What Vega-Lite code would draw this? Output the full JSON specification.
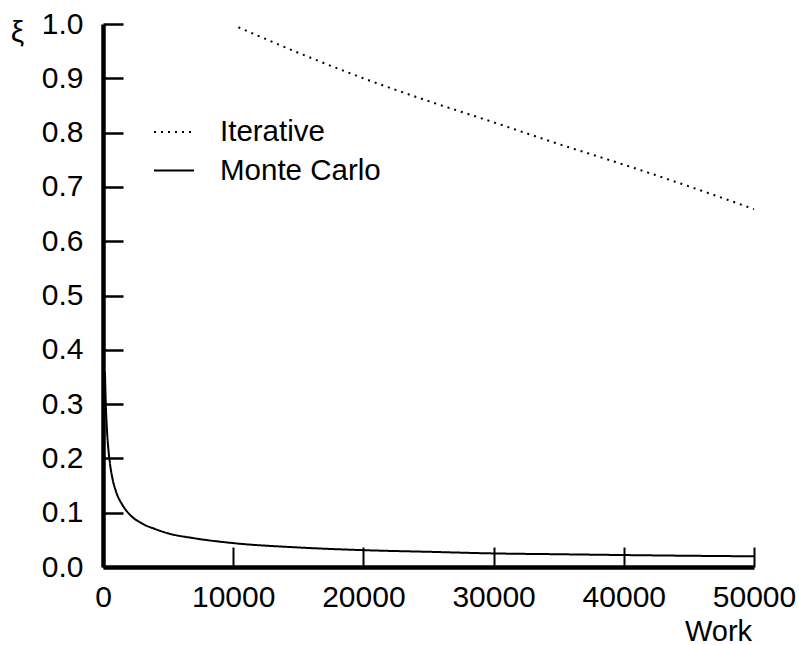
{
  "$schema": "https://vega.github.io/schema/vega-lite/v6.json",
  "autosize": "none",
  "width": 651,
  "height": 543,
  "padding": {"left": 103, "top": 24, "right": 45, "bottom": 78},
  "background": "white",
  "data": {
    "values": [
      {"work": 150, "xi": 0.359, "method": "Monte Carlo"},
      {"work": 200, "xi": 0.311, "method": "Monte Carlo"},
      {"work": 300, "xi": 0.254, "method": "Monte Carlo"},
      {"work": 400, "xi": 0.22, "method": "Monte Carlo"},
      {"work": 500, "xi": 0.197, "method": "Monte Carlo"},
      {"work": 700, "xi": 0.166, "method": "Monte Carlo"},
      {"work": 1000, "xi": 0.139, "method": "Monte Carlo"},
      {"work": 1500, "xi": 0.114, "method": "Monte Carlo"},
      {"work": 2000, "xi": 0.098, "method": "Monte Carlo"},
      {"work": 3000, "xi": 0.08, "method": "Monte Carlo"},
      {"work": 4000, "xi": 0.07, "method": "Monte Carlo"},
      {"work": 5000, "xi": 0.062, "method": "Monte Carlo"},
      {"work": 7000, "xi": 0.053, "method": "Monte Carlo"},
      {"work": 10000, "xi": 0.044, "method": "Monte Carlo"},
      {"work": 15000, "xi": 0.036, "method": "Monte Carlo"},
      {"work": 20000, "xi": 0.031, "method": "Monte Carlo"},
      {"work": 25000, "xi": 0.028, "method": "Monte Carlo"},
      {"work": 30000, "xi": 0.025, "method": "Monte Carlo"},
      {"work": 35000, "xi": 0.0235, "method": "Monte Carlo"},
      {"work": 40000, "xi": 0.022, "method": "Monte Carlo"},
      {"work": 45000, "xi": 0.0207, "method": "Monte Carlo"},
      {"work": 50000, "xi": 0.0197, "method": "Monte Carlo"},
      {"work": 10400, "xi": 0.994, "method": "Iterative"},
      {"work": 15000, "xi": 0.947, "method": "Iterative"},
      {"work": 20000, "xi": 0.9, "method": "Iterative"},
      {"work": 25000, "xi": 0.858, "method": "Iterative"},
      {"work": 30000, "xi": 0.819, "method": "Iterative"},
      {"work": 35000, "xi": 0.779, "method": "Iterative"},
      {"work": 40000, "xi": 0.741, "method": "Iterative"},
      {"work": 45000, "xi": 0.701, "method": "Iterative"},
      {"work": 50000, "xi": 0.659, "method": "Iterative"}
    ]
  },
  "mark": {"type": "line", "color": "black", "strokeWidth": 2, "interpolate": "monotone", "strokeCap": "butt"},
  "encoding": {
    "x": {
      "field": "work",
      "type": "quantitative",
      "scale": {"domain": [0, 50000], "nice": false},
      "axis": {
        "values": [0, 10000, 20000, 30000, 40000, 50000],
        "format": "d",
        "grid": false,
        "domainWidth": 4.5,
        "domainColor": "black",
        "tickColor": "black",
        "tickWidth": 2,
        "tickSize": -20,
        "labelPadding": 59,
        "labelBaseline": "alphabetic",
        "labelFlush": false,
        "labelOverlap": false,
        "labelBound": false,
        "labelFont": "Liberation Sans",
        "labelFontSize": 30,
        "labelColor": "black",
        "title": "Work",
        "titleFont": "Liberation Sans",
        "titleFontSize": 29,
        "titleFontWeight": "normal",
        "titleColor": "black",
        "titleAnchor": null,
        "titleAlign": "center",
        "titleBaseline": "alphabetic",
        "titleX": 615,
        "titleY": 73
      }
    },
    "y": {
      "field": "xi",
      "type": "quantitative",
      "scale": {"domain": [0, 1], "nice": false},
      "axis": {
        "values": [0, 0.1, 0.2, 0.3, 0.4, 0.5, 0.6, 0.7, 0.8, 0.9, 1.0],
        "format": ".1f",
        "grid": false,
        "domainWidth": 4.5,
        "domainColor": "black",
        "tickColor": "black",
        "tickWidth": 2.5,
        "tickSize": -20,
        "labelPadding": 40,
        "labelFlush": false,
        "labelOverlap": false,
        "labelBound": false,
        "labelFont": "Liberation Sans",
        "labelFontSize": 30,
        "labelColor": "black",
        "title": "ξ",
        "titleFont": "Liberation Sans",
        "titleFontSize": 30,
        "titleFontWeight": "normal",
        "titleColor": "black",
        "titleAngle": 0,
        "titleAnchor": null,
        "titleAlign": "center",
        "titleBaseline": "alphabetic",
        "titleX": -86,
        "titleY": 17
      }
    },
    "strokeDash": {
      "field": "method",
      "type": "nominal",
      "scale": {"domain": ["Iterative", "Monte Carlo"], "range": [[2, 5], [1, 0]]},
      "legend": {
        "orient": "none",
        "legendX": 50,
        "legendY": 93,
        "title": null,
        "padding": 0,
        "symbolType": "stroke",
        "symbolSize": 1600,
        "symbolStrokeWidth": 2,
        "symbolStrokeColor": "black",
        "labelFont": "Liberation Sans",
        "labelFontSize": 29.5,
        "labelColor": "black",
        "labelOffset": 25,
        "labelLimit": 400,
        "clipHeight": 30,
        "rowPadding": 8.5
      }
    }
  },
  "config": {"view": {"stroke": null}}
}
